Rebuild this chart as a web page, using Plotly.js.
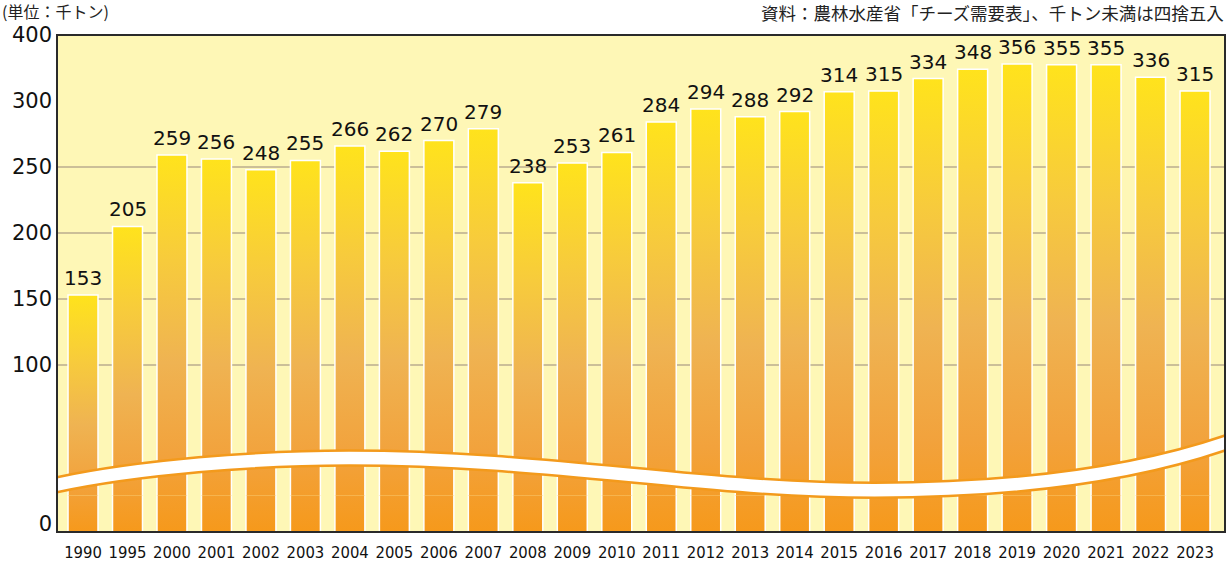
<!DOCTYPE html>
<html>
<head>
<meta charset="utf-8">
<script src="https://cdn.plot.ly/plotly-3.0.1.min.js"></script>
<style>
  html, body { margin: 0; padding: 0; background: #ffffff; }
  #chart { width: 1230px; height: 568px; }
</style>
</head>
<body>
<div id="chart"></div>
<script>
// ---------------- data ----------------
const years = ['1990','1995','2000','2001','2002','2003','2004','2005','2006','2007','2008','2009',
               '2010','2011','2012','2013','2014','2015','2016','2017','2018','2019','2020','2021','2022','2023'];
const values = [153,205,259,256,248,255,266,262,270,279,238,253,261,284,294,288,292,314,315,334,348,356,355,355,336,315];
const yTicksMain = [100,150,200,250,300];
const yTicksTop = [400];
const yTicksBottom = [0];
const unitText = '(単位：千トン)';
const sourceText = '資料：農林水産省「チーズ需要表」、千トン未満は四捨五入';

// ---------------- broken-axis setup ----------------
const SPLIT = 300;      // value where the compressed top segment begins
const TOP_MAX = 400;    // top of the chart frame
const BOTTOM_MAX = 20;  // the tiny segment below the break

const M = { l: 57, r: 5, t: 35, b: 36 };
const H = 568, W = 1230;
const plotH = H - M.t - M.b;            // 497 px
const plotW = W - M.l - M.r;            // 1168 px
const pp = p => p / plotH;               // pixels -> paper fraction (vertical)
const dMainBot = pp(35);                 // 0 of the main segment
const dMainTop = pp(431);                // 300 line
const dBotTop = pp(36.5);                // bottom segment (slight overlap)

const numFont = 'DejaVu Sans, Noto Sans, sans-serif';
const cjkFont = 'Noto Sans CJK JP, Noto Sans, sans-serif';

function barTrace(axis) {
  return {
    type: 'bar', x: years, y: values, yaxis: axis, xaxis: 'x',
    marker: { color: '#f2a93a', line: { color: '#ffffff', width: 1.5 } },
    hoverinfo: 'skip'
  };
}
const traces = [barTrace('y'), barTrace('y2'), barTrace('y3')];

// value labels (x given as category index)
const labelAnns = values.map((v, i) => ({
  x: i, y: v, xref: 'x', yref: v > SPLIT ? 'y2' : 'y',
  text: String(v), showarrow: false, xanchor: 'center', yanchor: 'bottom', yshift: 3,
  font: { family: numFont, size: 20, color: '#111111' }
}));

const headerAnns = [
  { xref: 'paper', yref: 'paper', x: (0 - M.l) / plotW, y: pp(532 - 11.5), xanchor: 'left', yanchor: 'middle',
    text: unitText, showarrow: false, font: { family: cjkFont, size: 16, color: '#222222' } },
  { xref: 'paper', yref: 'paper', x: (1226 - M.l) / plotW, y: pp(532 - 12), xanchor: 'right', yanchor: 'middle',
    text: sourceText, showarrow: false, font: { family: cjkFont, size: 17.5, color: '#222222' } }
];

// wave (axis break) geometry in paper coords
const wave = [[0,0.095],[0.07,0.13],[0.17,0.149],[0.25,0.149],[0.42,0.149],[0.55,0.084],[0.70,0.084],
              [0.82,0.084],[0.92,0.115],[1,0.179]];
const half = pp(7.5);
function fwd(off) {
  const p = wave.map(([x, y]) => [x, y + off]);
  let s = `M ${p[0][0]},${p[0][1]}`;
  for (let k = 1; k < p.length; k += 3)
    s += ` C ${p[k][0]},${p[k][1]} ${p[k+1][0]},${p[k+1][1]} ${p[k+2][0]},${p[k+2][1]}`;
  return s;
}
function back(off) {
  const p = wave.map(([x, y]) => [x, y + off]).reverse();
  let s = ` L ${p[0][0]},${p[0][1]}`;
  for (let k = 1; k < p.length; k += 3)
    s += ` C ${p[k][0]},${p[k][1]} ${p[k+1][0]},${p[k+1][1]} ${p[k+2][0]},${p[k+2][1]}`;
  return s + ' Z';
}
const orange = '#f39a1c';
const shapes = [
  { type: 'path', xref: 'paper', yref: 'paper', layer: 'above', path: fwd(half) + back(-half),
    fillcolor: '#ffffff', line: { width: 0 } },
  { type: 'path', xref: 'paper', yref: 'paper', layer: 'above', path: fwd(half), line: { color: orange, width: 2.5 } },
  { type: 'path', xref: 'paper', yref: 'paper', layer: 'above', path: fwd(-half), line: { color: orange, width: 2.5 } },
  { type: 'rect', xref: 'paper', yref: 'paper', layer: 'above', x0: 0, x1: 1, y0: 0, y1: 1,
    line: { color: '#2a2a2a', width: 2 }, fillcolor: 'rgba(0,0,0,0)' }
];

const yBase = {
  anchor: 'x', tickmode: 'array', zeroline: false, showline: false, ticks: '',
  ticklabelstandoff: 4, fixedrange: true,
  tickfont: { family: numFont, size: 21, color: '#111111' }
};

const layout = {
  width: W, height: H, margin: M,
  paper_bgcolor: '#ffffff', plot_bgcolor: '#fef7b6',
  showlegend: false, bargap: 0.326,
  xaxis: {
    type: 'category', anchor: 'y3', domain: [0, 1], range: [-0.585, 25.674],
    showgrid: false, showline: false, zeroline: false, ticks: '', fixedrange: true,
    ticklabelstandoff: 8,
    tickfont: { family: 'DejaVu Sans Condensed, Liberation Sans Narrow, sans-serif', size: 16.5, color: '#111111' }
  },
  yaxis: Object.assign({}, yBase, {
    domain: [dMainBot, dMainTop], range: [0, SPLIT], tickvals: yTicksMain, ticktext: yTicksMain.map(String),
    showgrid: true, gridcolor: '#cbbf98', gridwidth: 2
  }),
  yaxis2: Object.assign({}, yBase, {
    domain: [dMainTop, 1], range: [SPLIT, TOP_MAX], tickvals: yTicksTop, ticktext: yTicksTop.map(String),
    showgrid: false
  }),
  yaxis3: Object.assign({}, yBase, {
    domain: [0, dBotTop], range: [0, BOTTOM_MAX], tickvals: yTicksBottom, ticktext: yTicksBottom.map(String),
    showgrid: false, ticklabelshift: -8
  }),
  shapes: shapes,
  annotations: labelAnns.concat(headerAnns)
};

const gd = document.getElementById('chart');

function applyGradients() {
  const fl = gd._fullLayout;
  const svg = gd.querySelector('svg.main-svg');
  const defs = svg.querySelector('defs');
  const NS = 'http://www.w3.org/2000/svg';
  const bottom = fl._size.t + fl._size.h;
  const tops = values.map(v => {
    const ax = v > SPLIT ? fl.yaxis2 : fl.yaxis;
    return ax._offset + ax.l2p(v);
  });
  const stops = [[0,'#ffe31c'],[0.28,'#f7cb3c'],[0.55,'#efb352'],[0.8,'#f2a23c'],[1,'#f6991b']];
  ['xy','xy2','xy3'].forEach(sp => {
    const paths = gd.querySelectorAll('.subplot.' + sp + ' .barlayer .point path');
    paths.forEach((p, i) => {
      const ctm = p.getCTM();
      const id = 'grad_' + sp + '_' + i;
      const g = document.createElementNS(NS, 'linearGradient');
      g.setAttribute('id', id);
      g.setAttribute('gradientUnits', 'userSpaceOnUse');
      g.setAttribute('x1', 0); g.setAttribute('x2', 0);
      g.setAttribute('y1', (tops[i] - ctm.f) / ctm.d);
      g.setAttribute('y2', (bottom - ctm.f) / ctm.d);
      stops.forEach(([o, c]) => {
        const s = document.createElementNS(NS, 'stop');
        s.setAttribute('offset', o); s.setAttribute('stop-color', c);
        g.appendChild(s);
      });
      defs.appendChild(g);
      p.style.fill = 'url(#' + id + ')';
    });
  });
}

Plotly.newPlot(gd, traces, layout, { displayModeBar: false, staticPlot: true }).then(applyGradients);
</script>
</body>
</html>
